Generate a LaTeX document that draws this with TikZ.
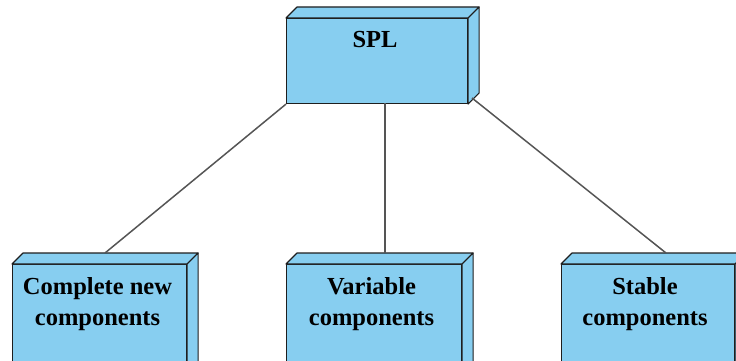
\documentclass[tikz,border=0pt]{standalone}
\usepackage{fontspec}
\setmainfont{Liberation Serif}
\definecolor{boxfill}{RGB}{135,206,240}
\definecolor{boxedge}{RGB}{30,30,30}
\definecolor{linkcol}{RGB}{85,85,85}
\tikzset{
  front/.style={draw=boxedge, fill=boxfill, line width=1.1pt, inner sep=0pt, anchor=north west},
  face/.style={draw=boxedge, fill=boxfill, line width=1.1pt, line join=round},
  lbl/.style={anchor=north, font=\fontsize{24.5}{31}\selectfont\bfseries, align=center, inner sep=0pt},
  link/.style={draw=linkcol, line width=1.5pt}
}
\newcommand{\boxsides}[1]{%
  \path[face] (#1.north west) -- ++(11,-11) -- ([shift={(11,-11)}]#1.north east) -- (#1.north east) -- cycle;
  \path[face] (#1.north east) -- ++(11,-11) -- ([shift={(11,-11)}]#1.south east) -- (#1.south east) -- cycle;
}
\begin{document}
\begin{tikzpicture}[x=1pt, y=-1pt]
\useasboundingbox (0,0) rectangle (736,361);
\clip (0,0) rectangle (736,361);
% top box
\node[front, minimum width=181pt, minimum height=85pt] (spl) at (286,18) {};
\boxsides{spl}
\node[lbl] (spltext) at (375,31) {SPL};
% bottom boxes
\node[front, minimum width=174pt, minimum height=110pt] (left) at (12,264) {};
\boxsides{left}
\node[front, minimum width=175pt, minimum height=110pt] (mid) at (286,264) {};
\boxsides{mid}
\node[front, minimum width=173pt, minimum height=110pt] (right) at (561,264) {};
\boxsides{right}
\node[lbl] (lefttext) at (97.5,277) {Complete new\\components};
\node[lbl] (midtext) at (371.5,277) {Variable\\components};
\node[lbl] (righttext) at (645,277) {Stable\\components};
% connector end points
\coordinate (la) at (105,253);
\coordinate (ma) at (385,253);
\coordinate (ra) at (666,253);
\coordinate (ms) at (385,103);
\coordinate (rs) at (472,98);
\draw[link] (spl.south west) -- (la);
\draw[link] (ms) -- (ma);
\draw[link] (rs) -- (ra);
\end{tikzpicture}
\end{document}
